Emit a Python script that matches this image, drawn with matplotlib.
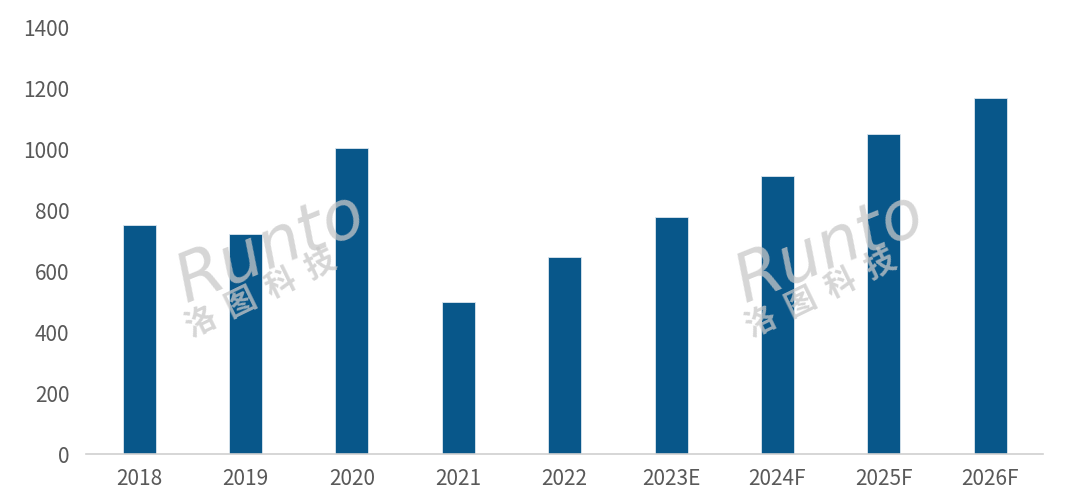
import matplotlib.pyplot as plt
import numpy as np

plt.rcParams['font.family'] = ['Noto Sans CJK SC', 'DejaVu Sans']

years = ["2018", "2019", "2020", "2021", "2022", "2023E", "2024F", "2025F", "2026F"]
values = [750, 722, 1003, 499, 647, 776, 912, 1050, 1166]
yticks = [0, 200, 400, 600, 800, 1000, 1200, 1400]

BAR_COLOR = "#08578A"
TEXT_COLOR = "#595959"

fig = plt.figure(figsize=(10.8, 4.97), dpi=100)
ax = fig.add_axes([0.0796, 0.0865, 0.8865, 0.859])

x = np.arange(len(years))
ax.bar(x, values, width=0.31, color=BAR_COLOR, edgecolor="#dce6ef", linewidth=0.6, zorder=2)

ax.set_xlim(-0.5, len(years) - 0.5)
ax.set_ylim(0, 1400)
ax.set_yticks(yticks)
ax.set_yticklabels([str(t) for t in yticks])
ax.set_xticks(x)
ax.set_xticklabels(years)
ax.tick_params(axis="both", length=0, labelsize=15, colors=TEXT_COLOR)
ax.tick_params(axis="y", pad=12)
ax.tick_params(axis="x", pad=10)

for side in ["top", "right", "left"]:
    ax.spines[side].set_visible(False)
ax.spines["bottom"].set_color("#d0d0d0")
ax.spines["bottom"].set_linewidth(1.2)

# 水印
for cx in [0.25, 0.768]:
    fig.text(cx, 0.50, "Runto", fontsize=48, style="italic", color="#c8c8c8", alpha=0.75,
             rotation=22, ha="center", va="center", family="DejaVu Sans", zorder=5)
    fig.text(cx - 0.008, 0.41, "洛  图  科  技", fontsize=22, fontweight="bold", color="#c8c8c8", alpha=0.75,
             rotation=26, ha="center", va="center", zorder=5)

fig.savefig("out.png", dpi=100)
